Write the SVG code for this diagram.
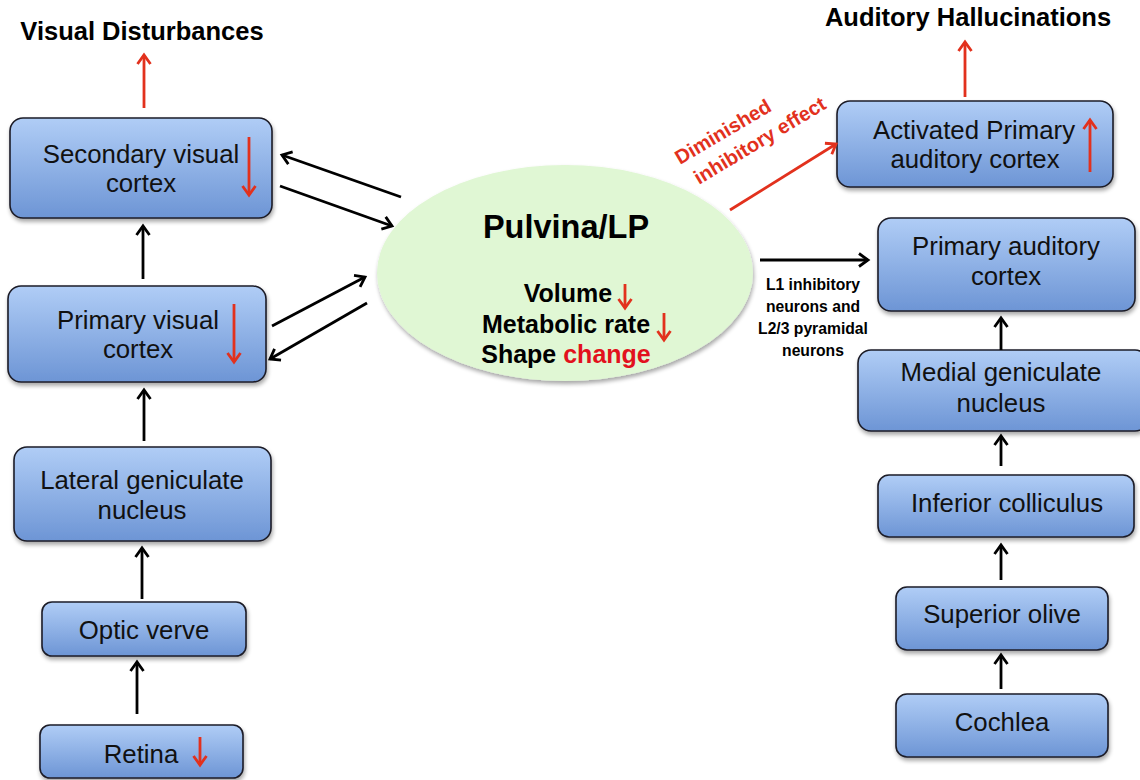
<svg xmlns="http://www.w3.org/2000/svg" width="1140" height="780" viewBox="0 0 1140 780">
<defs>
<linearGradient id="bg" x1="0" y1="0" x2="0" y2="1">
<stop offset="0" stop-color="#b0cdf6"/>
<stop offset="1" stop-color="#6d95d5"/>
</linearGradient>
<filter id="sh" x="-10%" y="-10%" width="130%" height="140%">
<feGaussianBlur in="SourceAlpha" stdDeviation="2"/>
<feOffset dx="1" dy="3"/>
<feComponentTransfer><feFuncA type="linear" slope="0.35"/></feComponentTransfer>
<feMerge><feMergeNode/><feMergeNode in="SourceGraphic"/></feMerge>
</filter>
<marker id="ab" markerWidth="16" markerHeight="16" refX="12" refY="8" orient="auto" markerUnits="userSpaceOnUse">
<path d="M3,1.5 L12,8 L3,14.5" fill="none" stroke="#000" stroke-width="2.8"/>
</marker>
<marker id="ar" markerWidth="16" markerHeight="16" refX="12" refY="8" orient="auto" markerUnits="userSpaceOnUse">
<path d="M3,1.5 L12,8 L3,14.5" fill="none" stroke="#e2311d" stroke-width="2.8"/>
</marker>
</defs>
<style>
.box{fill:url(#bg);stroke:#1c1c28;stroke-width:1.6;filter:url(#sh)}
.t{font-family:"Liberation Sans",Arial,sans-serif;font-size:25.8px;fill:#111;text-anchor:middle}
.b{font-family:"Liberation Sans",Arial,sans-serif;font-weight:bold;fill:#000}
.rd{font-family:"Liberation Sans",Arial,sans-serif;font-weight:bold;fill:#e2311d;font-size:20px}
.k{stroke:#000;stroke-width:2.8;fill:none;marker-end:url(#ab)}
.r{stroke:#e2311d;stroke-width:2.8;fill:none;marker-end:url(#ar)}
</style>

<text class="b" x="142" y="40" font-size="25.5" text-anchor="middle">Visual Disturbances</text>
<text class="b" x="968" y="26" font-size="25.5" text-anchor="middle">Auditory Hallucinations</text>

<g id="pulvinar">
<ellipse cx="565" cy="273" rx="188" ry="108" fill="#e0f7d4" filter="url(#sh)"/>
<text class="b" x="566" y="238" font-size="32.5" text-anchor="middle">Pulvina/LP</text>
<text class="b" x="568" y="302" font-size="25" text-anchor="middle">Volume</text>
<text class="b" x="566" y="333" font-size="25" text-anchor="middle">Metabolic rate</text>
<text class="b" x="566" y="363" font-size="25" text-anchor="middle">Shape <tspan style="fill:#e2111d">change</tspan></text>
<line class="r" x1="625" y1="284" x2="625" y2="308"/>
<line class="r" x1="664" y1="313" x2="664" y2="340"/>
</g>

<g id="secondary-visual">
<rect class="box" x="10" y="118" width="262" height="100" rx="13"/>
<text class="t" x="141" y="163">Secondary visual</text>
<text class="t" x="141" y="192">cortex</text>
<line class="r" x1="249" y1="137" x2="249" y2="195"/>
</g>
<g id="primary-visual">
<rect class="box" x="8" y="286" width="258" height="96" rx="13"/>
<text class="t" x="138" y="329">Primary visual</text>
<text class="t" x="138" y="358">cortex</text>
<line class="r" x1="234" y1="304" x2="234" y2="362"/>
</g>
<g id="lgn">
<rect class="box" x="14" y="447" width="257" height="94" rx="13"/>
<text class="t" x="142" y="489">Lateral geniculate</text>
<text class="t" x="142" y="519">nucleus</text>
</g>
<g id="optic">
<rect class="box" x="42" y="602" width="204" height="54" rx="10"/>
<text class="t" x="144" y="639">Optic verve</text>
</g>
<g id="retina">
<rect class="box" x="40" y="725" width="203" height="53" rx="10"/>
<text class="t" x="141" y="763">Retina</text>
<line class="r" x1="200" y1="737" x2="200" y2="765"/>
</g>

<g id="activated-auditory">
<rect class="box" x="837" y="101" width="276" height="86" rx="13"/>
<text class="t" x="974" y="139">Activated Primary</text>
<text class="t" x="975" y="168">auditory cortex</text>
<line class="r" x1="1090" y1="172" x2="1090" y2="120"/>
</g>
<g id="primary-auditory">
<rect class="box" x="878" y="218" width="257" height="93" rx="13"/>
<text class="t" x="1006" y="255">Primary auditory</text>
<text class="t" x="1006" y="285">cortex</text>
</g>
<g id="mgn">
<rect class="box" x="858" y="350" width="290" height="81" rx="13"/>
<text class="t" x="1001" y="381">Medial geniculate</text>
<text class="t" x="1001" y="412">nucleus</text>
</g>
<g id="inferior-colliculus">
<rect class="box" x="878" y="475" width="256" height="62" rx="11"/>
<text class="t" x="1007" y="512">Inferior colliculus</text>
</g>
<g id="superior-olive">
<rect class="box" x="896" y="587" width="212" height="63" rx="11"/>
<text class="t" x="1002" y="623">Superior olive</text>
</g>
<g id="cochlea">
<rect class="box" x="896" y="694" width="212" height="63" rx="11"/>
<text class="t" x="1002" y="731">Cochlea</text>
</g>

<g id="connectors">
<line class="r" x1="144" y1="108" x2="144" y2="55"/>
<line class="r" x1="965" y1="97" x2="965" y2="42"/>
<line class="k" x1="143" y1="279" x2="143" y2="226"/>
<line class="k" x1="144" y1="441" x2="144" y2="390"/>
<line class="k" x1="142" y1="599" x2="142" y2="548"/>
<line class="k" x1="137" y1="714" x2="137" y2="662"/>
<line class="k" x1="401" y1="197" x2="282" y2="155"/>
<line class="k" x1="280" y1="186" x2="392" y2="226"/>
<line class="k" x1="272" y1="326" x2="365" y2="277"/>
<line class="k" x1="367" y1="303" x2="270" y2="359"/>
<line class="k" x1="760" y1="260" x2="868" y2="260"/>
<line class="r" x1="730" y1="210" x2="836" y2="144"/>
<line class="k" x1="1001" y1="350" x2="1001" y2="318"/>
<line class="k" x1="1001" y1="466" x2="1001" y2="436"/>
<line class="k" x1="1001" y1="580" x2="1001" y2="545"/>
<line class="k" x1="1001" y1="689" x2="1001" y2="655"/>
<text class="b" font-size="15.7" text-anchor="middle"><tspan x="813" y="290">L1 inhibitory</tspan><tspan x="813" y="312">neurons and</tspan><tspan x="813" y="334">L2/3 pyramidal</tspan><tspan x="813" y="356">neurons</tspan></text>
<text class="rd" transform="translate(680,165) rotate(-30.5)">Diminished</text>
<text class="rd" transform="translate(699,185) rotate(-31)">inhibitory effect</text>
</g>
</svg>
